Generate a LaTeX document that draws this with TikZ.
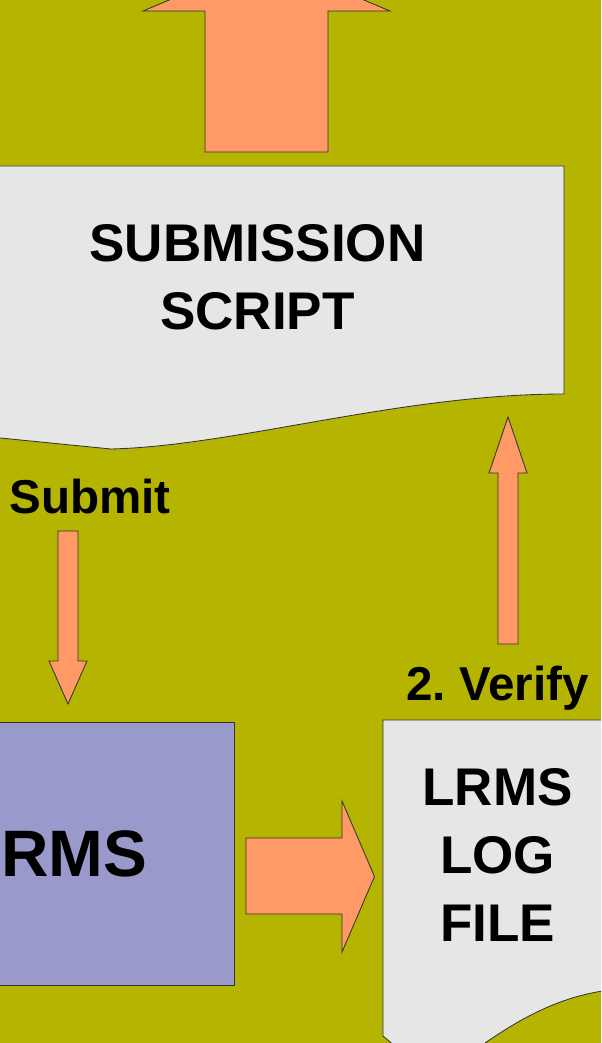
\documentclass[tikz,border=0pt]{standalone}
\usepackage{fontspec}
\setmainfont{Liberation Sans}
\usetikzlibrary{positioning}

\definecolor{olivebg}{RGB}{181,180,0}
\definecolor{docgray}{RGB}{230,230,230}
\definecolor{salmon}{RGB}{255,153,102}
\definecolor{lrmsblue}{RGB}{153,153,204}

\begin{document}
\begin{tikzpicture}[x=0.025cm, y=-0.025cm,
    doc/.style={draw=black!80, line width=0.6pt, fill=docgray},
    fat/.style={draw=black!80, line width=0.6pt, fill=salmon},
    big/.style={font=\bfseries\fontsize{37.7}{48.5}\selectfont, align=center, inner sep=0pt},
    lbl/.style={font=\bfseries\fontsize{33.8}{40}\selectfont, inner sep=0pt}
]
\useasboundingbox (0,0) rectangle (601,1043);
\clip (0,0) rectangle (601,1043);
\fill[olivebg] (0,0) rectangle (601,1043);

% outgoing arrow above the script
\draw[fat] (205,152) -- (205,11) -- (143,11) -- (266.5,-41) -- (390,11)
    -- (328,11) -- (328,152) -- cycle;

% submission script (document shape)
\draw[doc] (-60,166) -- (564,166) -- (564,394)
    .. controls (400,394) and (235,446) .. (111,449) -- (-60,432) -- cycle;
\node[big] (script) at (257.5,277) {SUBMISSION\\SCRIPT};

% submit
\node[lbl, anchor=base] (submit) at (90,513) {Submit};
\draw[fat] (58,531) -- (78,531) -- (78,661) -- (87,661) -- (68,704)
    -- (49,661) -- (58,661) -- cycle;

% LRMS
\node[draw=black!80, line width=0.6pt, fill=lrmsblue, minimum width=9.025cm,
    minimum height=6.575cm, font=\bfseries\fontsize{46.7}{56}\selectfont]
    (lrms) at (54,853.5) {LRMS};
\draw[fat] (246,838) -- (342,838) -- (342,801) -- (374.5,876.5) -- (342,952)
    -- (342,914) -- (246,914) -- cycle;

% log file (document shape)
\draw[doc] (383,720) -- (640,720) -- (640,990) -- (610,990)
    .. controls (525,1000) and (470,1060) .. (432,1077) -- (383,1036) -- cycle;
\node[big] (logfile) at (497.5,855) {LRMS\\LOG\\FILE};

% verify
\node[lbl, anchor=base] (verify) at (497.5,700) {2.\ Verify};
\draw[fat] (498,644) -- (498,473) -- (489,473) -- (508,417) -- (527,473)
    -- (518,473) -- (518,644) -- cycle;
\end{tikzpicture}
\end{document}
